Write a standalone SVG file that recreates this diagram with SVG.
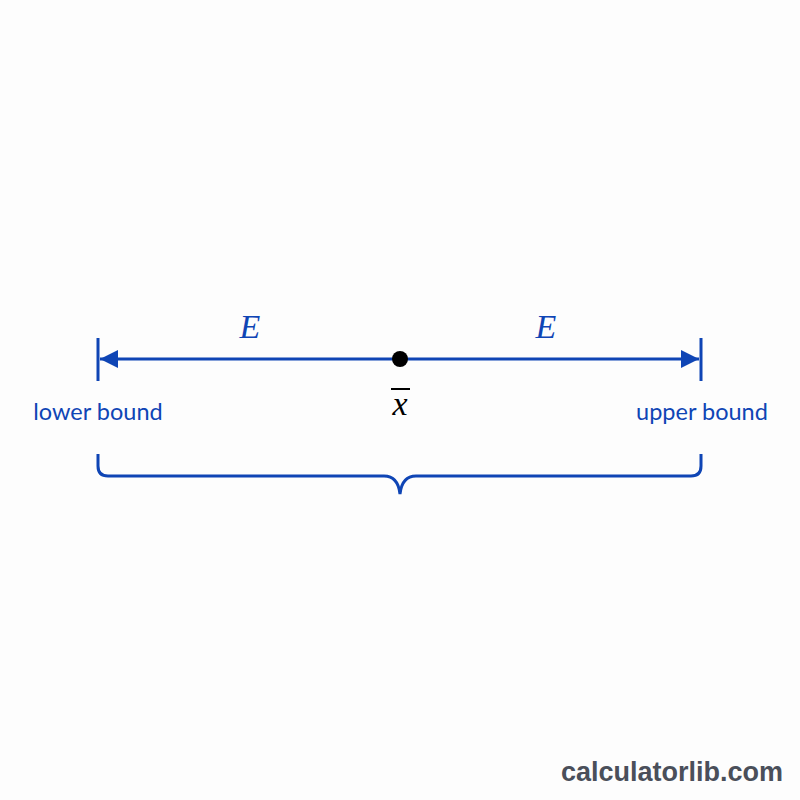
<svg xmlns="http://www.w3.org/2000/svg" width="800" height="800" viewBox="0 0 800 800">
<style>
.blue{stroke:#0f45b5;fill:none;stroke-width:3}
.lbl{font-family:Lato,"Liberation Sans",sans-serif;font-size:23.5px;fill:#0f45b5}
.math{font-family:"Liberation Serif","DejaVu Serif",serif;font-style:italic;font-size:34px}
</style>
<defs>
<marker id="ah" viewBox="0 0 10 10" refX="10" refY="5" markerWidth="8" markerHeight="6" markerUnits="strokeWidth" orient="auto-start-reverse">
<path d="M0,0 L10,5 L0,10 Z" fill="#0f45b5"/>
</marker>
</defs>
<rect width="800" height="800" fill="#fdfdfd"/>
<g id="connectors">
<line class="blue" x1="100" y1="359" x2="699" y2="359" marker-start="url(#ah)" marker-end="url(#ah)"/>
<path class="blue" d="M98,454 V466 Q98,476 108,476 H384 Q398,476 400,494 Q402,476 416,476 H691 Q701,476 701,466 V454"/>
</g>
<g id="lower-tick"><line class="blue" x1="98" y1="338" x2="98" y2="381"/></g>
<g id="upper-tick"><line class="blue" x1="701" y1="338" x2="701" y2="381"/></g>
<g id="mean">
<circle cx="400" cy="359" r="8" fill="#000"/>
<line x1="391" y1="389" x2="410" y2="389" stroke="#000" stroke-width="2"/>
<text class="math" x="400" y="415" text-anchor="middle" fill="#000">x</text>
</g>
<g id="E-left"><text class="math" x="250" y="338" text-anchor="middle" fill="#0f45b5">E</text></g>
<g id="E-right"><text class="math" x="546" y="338" text-anchor="middle" fill="#0f45b5">E</text></g>
<g id="lower-bound"><text class="lbl" x="98" y="420" text-anchor="middle">lower bound</text></g>
<g id="upper-bound"><text class="lbl" x="702" y="420" text-anchor="middle">upper bound</text></g>
<text x="783" y="781" text-anchor="end" font-family="'Liberation Sans',Arial,sans-serif" font-weight="bold" font-size="27" fill="#4a4f5a">calculatorlib.com</text>
</svg>
